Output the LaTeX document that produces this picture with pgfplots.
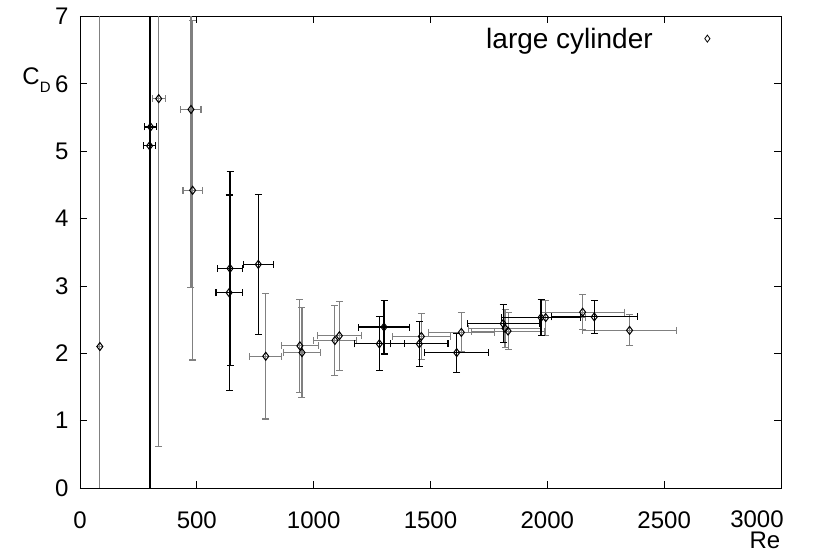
\documentclass[border=0pt]{standalone}
\usepackage{pgfplots}
\pgfplotsset{compat=1.18}
\usepackage{pgfplotstable}
\usepackage{fontspec}
\setmainfont{Liberation Sans}
\usetikzlibrary{calc}

\pgfplotstableread{
x y ex ey
298 5.08 27 8
302 5.36 27 8
642 3.26 55 1.44
638 2.90 56 1.45
763 3.32 64 1.04
1281 2.14 107 0.40
1301 2.39 110 0.40
1452 2.14 123 0.33
1612 2.01 138 0.29
1811 2.44 154 0.28
1973 2.53 170 0.27
2201 2.54 184 0.25
}\blackdata

\pgfplotstableread{
x y ex ey
85 2.10 0 8
337 5.78 28 5.17
475 5.62 43 2.64
482 4.42 41 2.52
795 1.955 68 0.93
941 2.11 80 0.69
950 2.01 80 0.67
1091 2.19 93 0.52
1110 2.26 94 0.51
1461 2.25 123 0.34
1632 2.31 140 0.29
1819 2.37 156 0.28
1832 2.33 157 0.28
1993 2.53 171 0.26
2151 2.61 180 0.26
2352 2.34 201 0.23
}\graydata

\begin{document}
\begin{tikzpicture}
\begin{axis}[
  name=ax, at={(0,0)}, anchor=south west,
  scale only axis, width=701pt, height=471.5pt,
  xmin=0, xmax=3000, ymin=0, ymax=7,
  xtick={0,500,...,2500}, ytick={0,1,...,7},
  extra x ticks={3000},
  extra x tick style={xticklabel style={xshift=-24pt, yshift=1pt}},
  scaled x ticks=false,
  /pgf/number format/1000 sep={},
  /pgf/number format/assume math mode=true,
  tick align=inside, major tick length=7pt,
  tick style={black, line width=0.8pt},
  axis line style={line width=0.9pt},
  font=\fontsize{24}{28}\selectfont,
  xticklabel style={yshift=-20pt},
  yticklabel style={xshift=-8pt},
  xlabel={Re}, ylabel={C\raisebox{-8pt}{\fontsize{15}{15}\selectfont D}},
  every axis x label/.style={at={(axis description cs:0.977,-0.129)}, anchor=base, inner sep=0pt},
  every axis y label/.style={at={(axis description cs:-0.062,0.865)}, anchor=center},
  legend style={draw=none, fill=none, at={(axis description cs:0.899,0.953)}, anchor=east, inner sep=0pt, column sep=50pt, font=\fontsize{28}{31}\selectfont},
  legend plot pos=right,
]
\addplot[forget plot, only marks, mark=diamond, mark size=4pt, black,
  mark options={black, line width=1pt, fill=none},
  error bars/.cd, x dir=both, x explicit, y dir=both, y explicit,
  error bar style={black!50, line width=1.1pt},
  error mark options={rotate=90, black!50, mark size=3.5pt, line width=1.1pt}]
  table[x=x, y=y, x error=ex, y error=ey]{\graydata};
\addplot[forget plot, only marks, mark=diamond, mark size=4pt, black,
  mark options={black, line width=1pt, fill=none},
  error bars/.cd, x dir=both, x explicit, y dir=both, y explicit,
  error bar style={black, line width=1.1pt},
  error mark options={rotate=90, black, mark size=3.5pt, line width=1.1pt}]
  table[x=x, y=y, x error=ex, y error=ey]{\blackdata};
\addlegendimage{only marks, mark=diamond, mark size=3.5pt, black, mark options={line width=0.8pt}}
\addlegendentry{large cylinder}
\end{axis}
\pgfresetboundingbox
\path ($(ax.south west)+(-80pt,-64pt)$) rectangle ($(ax.south west)+(734pt,488pt)$);
\end{tikzpicture}
\end{document}
